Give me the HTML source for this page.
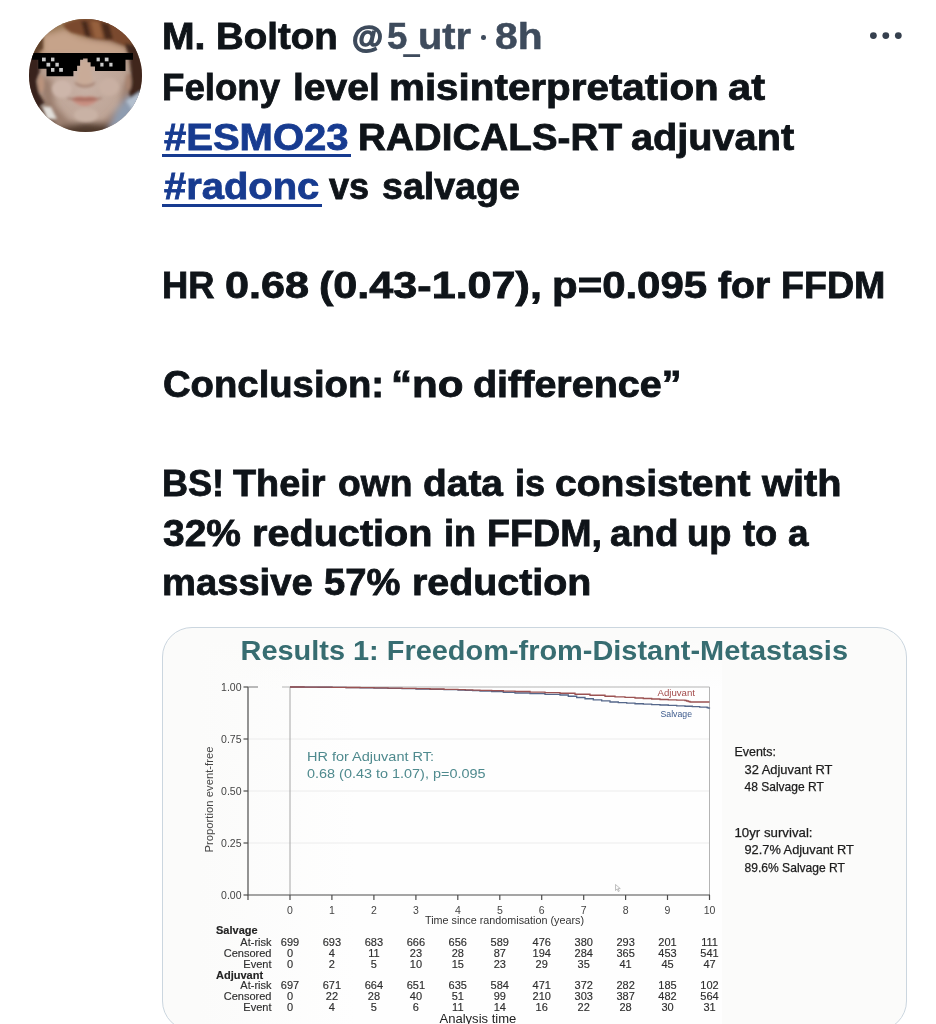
<!DOCTYPE html>
<html lang="en">
<head>
<meta charset="utf-8">
<title>Tweet</title>
<style>
html,body{margin:0;padding:0;background:#fff;}
body{width:936px;height:1024px;position:relative;overflow:hidden;font-family:"Liberation Sans",sans-serif;color:#0f1419;}
.ln{will-change:transform;position:absolute;left:162px;height:50px;line-height:50px;font-size:36px;font-weight:bold;white-space:nowrap;transform-origin:0 50%;left:0;letter-spacing:0;-webkit-text-stroke:0.8px currentColor;color:#0f1419;}
.lk{color:#173b90 !important;}
.ul{position:absolute;height:3.2px;background:#173b90;}
.gray{color:#3e4b5c !important;-webkit-text-stroke:0.5px #3e4b5c;}
.dot{position:absolute;width:4.6px;height:4.6px;border-radius:50%;background:#3e4b5c;color:transparent;font-size:4px;line-height:4.6px;overflow:hidden;}
#avatar{position:absolute;left:28.5px;top:19px;width:113px;height:113px;}
#dots{position:absolute;left:869px;top:31px;width:36px;height:10px;}
#card{position:absolute;left:161.5px;top:627px;width:745px;height:404px;box-sizing:border-box;border:1.3px solid #cbd6df;border-radius:30px;background:#fbfbfa;overflow:hidden;}
#card svg{position:absolute;left:-0.8px;top:-1.3px;filter:blur(0.3px);}
</style>
</head>
<body>

<svg id="avatar" viewBox="0 0 113 113">
  <defs>
    <clipPath id="avc"><circle cx="56.5" cy="56.5" r="56.5"/></clipPath>
    <filter id="b3" x="-20%" y="-20%" width="140%" height="140%"><feGaussianBlur stdDeviation="3"/></filter>
    <filter id="b2" x="-20%" y="-20%" width="140%" height="140%"><feGaussianBlur stdDeviation="1.8"/></filter>
    <filter id="b05" x="-5%" y="-5%" width="110%" height="110%"><feGaussianBlur stdDeviation="0.55"/></filter>
    <radialGradient id="skin" cx="50%" cy="58%" r="55%">
      <stop offset="0" stop-color="#c8b1a5"/><stop offset="0.6" stop-color="#bea597"/><stop offset="1" stop-color="#9c8373"/>
    </radialGradient>
  </defs>
  <g clip-path="url(#avc)">
    <rect width="113" height="113" fill="url(#skin)"/>
    <g filter="url(#b3)">
      <!-- upper-left tan area -->
      <path d="M-10 -10 L60 -10 L60 30 L-10 40 Z" fill="#97744f"/>
      <path d="M60 -10 L123 -10 L123 34 L60 26 Z" fill="#6e4329"/>
      <path d="M14 16 L36 10 L52 18 L80 22 L98 28 L98 36 L12 36 Z" fill="#c6a38a"/>
      <!-- jaw shade -->
      <path d="M10 58 L22 60 L26 86 L40 102 L56 106 L76 102 L90 88 L96 62 L104 64 L98 96 L76 112 L40 112 L16 96 Z" fill="#9a7d6d"/>
      <!-- under chin dark -->
      <path d="M30 108 L56 104 L84 106 L90 123 L24 123 Z" fill="#4e372c"/>
      <!-- lower right clothing (blue gray) -->
      <path d="M81 108 L87 92 L96 80 L105 74 L123 68 L123 123 L80 123 Z" fill="#8e9cb0"/>
      <!-- lower left dark -->
      <path d="M-10 84 L12 84 L22 98 L34 123 L-10 123 Z" fill="#4a352a"/>
    </g>
    <g filter="url(#b2)">
      <!-- fringe -->
      <path d="M34 5 L50 -1 L76 0 L94 6 L104 21 L97 27 L82 21 L66 19.5 L54 16.5 L42 13.5 L36 9 Z" fill="#7a4a2d"/>
      <path d="M52 2 L58 2 L62 18 L56 17 Z M72 3 L80 5 L84 20 L76 20 Z" fill="#4a2b1a"/>
      <path d="M62 2 L70 3 L74 19 L66 19 Z" fill="#96613c"/>
      <!-- left dark hair -->
      <path d="M-4 34 L10.7 34 L10.7 53 L7.5 62 L10.5 75 L15.5 84 L7 90 L-4 78 Z" fill="#38231a"/>
      <path d="M0 22 L14 12 L14 30 L4 36 Z" fill="#5e3f2a"/>
      <!-- right dark hair -->
      <path d="M96 24 L109 28 L118 50 L114 76 L102 82 L99 69 L102 55 L100.5 40 Z" fill="#3f271a"/>
      <!-- ears -->
      <ellipse cx="12" cy="65" rx="3.2" ry="9" fill="#b9937d"/>
      <ellipse cx="99.5" cy="63" rx="3" ry="9" fill="#a98471"/>
      <!-- light collar left -->
      <path d="M13 87 L22 88 L28 100 L18 100 Z" fill="#e2dfda"/>
      <!-- clothing light -->
      <path d="M97 82 L112 72 L113 88 L104 92 Z" fill="#b3bfce"/>
      <!-- cheeks light -->
      <ellipse cx="33" cy="70" rx="10" ry="9" fill="#cdb6aa"/>
      <ellipse cx="80" cy="68" rx="10" ry="9" fill="#c9b0a3"/>
      <ellipse cx="57" cy="96" rx="12" ry="7" fill="#c9b2a5"/>
      <!-- nose -->
      <path d="M52 42 L60 42 L64 62 L56 67 L47 62 Z" fill="#c9ab98"/>
      <path d="M45 62 Q56 70 67 62 L65 66 Q56 71 47 66 Z" fill="#a58272"/>
      <!-- mouth -->
      <path d="M42 80 Q49 76.5 56 78 Q63 76.5 70 80 Q63 87 56 87 Q48 87 42 80 Z" fill="#c98e80"/>
      <path d="M42 80 Q49 77 56 78.5 Q63 77 70 80 Q56 83 42 80 Z" fill="#b06f60"/>
      <path d="M38 79 Q56 84 73 79" stroke="#8f6256" stroke-width="1" fill="none"/>
    </g>
    <!-- pixel sunglasses -->
    <g filter="url(#b05)">
      <path d="M3 34.1 H104 V40.8 H96.5 V52 H66 V47.5 H61.6 V43.2 H58.6 V39.4 H54.1 V40.8 H51.1 V46.8 H48.1 V52 H44.4 V57.3 H17.5 V49.8 H9.2 V40.8 H3 Z" fill="#050505"/>
      <g fill="#c9c9c9">
        <rect x="13" y="38.6" width="3.7" height="3.7"/><rect x="22" y="38.6" width="3.4" height="3.7"/>
        <rect x="17.5" y="43.8" width="3.7" height="3.7"/><rect x="26.4" y="43.8" width="3.4" height="3.7"/>
        <rect x="22" y="49" width="3.4" height="3.8"/><rect x="30.2" y="49" width="3.7" height="3.8"/>
        <rect x="67.6" y="38.6" width="3.2" height="3.7"/><rect x="75.8" y="38.6" width="3.7" height="3.7"/>
        <rect x="71.3" y="43.8" width="3.2" height="3.7"/><rect x="80.3" y="43.8" width="3.2" height="3.7"/>
      </g>
    </g>
  </g>
</svg>

<!--TEXT-->
<div class="ln" style="left:162.01px;top:11.90px;transform:scaleX(1.0873)">M.</div>
<div class="ln" style="left:216.29px;top:11.90px;transform:scaleX(1.0675)">Bolton</div>
<div class="ln gray" style="left:351.89px;top:12.10px;transform:scaleX(1.0102);font-size:31.5px;-webkit-text-stroke-width:1.5px !important">@</div>
<div class="ln gray" style="left:386.64px;top:11.90px;transform:scaleX(1.0154)">5</div>
<div class="ln gray" style="left:404.21px;top:14.50px;transform:scaleX(0.7692);-webkit-text-stroke-width:1.4px !important">_</div>
<div class="ln gray" style="left:417.56px;top:11.90px;transform:scaleX(1.1059)">utr</div>
<div class="ln gray" style="left:495.15px;top:11.90px;transform:scaleX(1.1323)">8h</div>

<div class="ln" style="left:162.37px;top:63.30px;transform:scaleX(1.0175)">Felony</div>
<div class="ln" style="left:292.77px;top:63.30px;transform:scaleX(1.0837)">level</div>
<div class="ln" style="left:388.81px;top:63.30px;transform:scaleX(1.1215)">misinterpretation</div>
<div class="ln" style="left:727.81px;top:63.30px;transform:scaleX(1.1565)">at</div>

<div class="ln lk" style="left:164.44px;top:112.80px;transform:scaleX(1.1112)">#ESMO23</div>
<div class="ln" style="left:357.68px;top:112.80px;transform:scaleX(1.0732)">RADICALS-RT</div>
<div class="ln" style="left:630.94px;top:112.80px;transform:scaleX(1.1019)">adjuvant</div>

<div class="ln lk" style="left:164.44px;top:162.30px;transform:scaleX(1.1085)">#radonc</div>
<div class="ln" style="left:329.40px;top:162.30px;transform:scaleX(1.0020)">vs</div>
<div class="ln" style="left:381.77px;top:162.30px;transform:scaleX(1.0430)">salvage</div>

<div class="ln" style="left:162.38px;top:261.30px;transform:scaleX(1.0099)">HR</div>
<div class="ln" style="left:224.87px;top:261.30px;transform:scaleX(1.2000)">0.68</div>
<div class="ln" style="left:319.08px;top:261.30px;transform:scaleX(1.1979)">(0.43-1.07),</div>
<div class="ln" style="left:552.24px;top:261.30px;transform:scaleX(1.1655)">p=0.095</div>
<div class="ln" style="left:718.43px;top:261.30px;transform:scaleX(1.0865)">for</div>
<div class="ln" style="left:780.83px;top:261.30px;transform:scaleX(1.0447)">FFDM</div>

<div class="ln" style="left:163.36px;top:360.30px;transform:scaleX(1.0625)">Conclusion:</div>
<div class="ln" style="left:390.50px;top:360.30px;transform:scaleX(1.1700)">“no</div>
<div class="ln" style="left:473.14px;top:360.30px;transform:scaleX(1.0966)">difference”</div>

<div class="ln" style="left:162.40px;top:459.20px;transform:scaleX(1.0020)">BS!</div>
<div class="ln" style="left:232.82px;top:459.20px;transform:scaleX(1.0495)">Their</div>
<div class="ln" style="left:337.68px;top:459.20px;transform:scaleX(1.0331)">own</div>
<div class="ln" style="left:422.95px;top:459.20px;transform:scaleX(1.0802)">data</div>
<div class="ln" style="left:514.92px;top:459.20px;transform:scaleX(1.0020)">is</div>
<div class="ln" style="left:555.45px;top:459.20px;transform:scaleX(1.0854)">consistent</div>
<div class="ln" style="left:761.94px;top:459.20px;transform:scaleX(1.1032)">with</div>

<div class="ln" style="left:163.03px;top:508.70px;transform:scaleX(1.0832)">32%</div>
<div class="ln" style="left:251.64px;top:508.70px;transform:scaleX(1.1007)">reduction</div>
<div class="ln" style="left:443.67px;top:508.70px;transform:scaleX(1.0020)">in</div>
<div class="ln" style="left:486.93px;top:508.70px;transform:scaleX(1.0453)">FFDM,</div>
<div class="ln" style="left:609.56px;top:508.70px;transform:scaleX(1.0694)">and</div>
<div class="ln" style="left:686.69px;top:508.70px;transform:scaleX(1.0074)">up</div>
<div class="ln" style="left:742.80px;top:508.70px;transform:scaleX(1.0092)">to</div>
<div class="ln" style="left:787.89px;top:508.70px;transform:scaleX(1.0240)">a</div>

<div class="ln" style="left:162.30px;top:558.20px;transform:scaleX(1.0601)">massive</div>
<div class="ln" style="left:323.66px;top:558.20px;transform:scaleX(1.0593)">57%</div>
<div class="ln" style="left:411.85px;top:558.20px;transform:scaleX(1.0938)">reduction</div>

<div class="dot" style="left:481.3px;top:35.1px">·</div>
<div class="ul" style="left:161.8px;top:154.1px;width:189.5px"></div>
<div class="ul" style="left:161.8px;top:203.7px;width:160.7px"></div>
<!--/TEXT-->

<svg id="dots" viewBox="0 0 36 10">
  <circle cx="4.4" cy="4.55" r="3.4" fill="#36404e"/><circle cx="16.8" cy="4.55" r="3.4" fill="#36404e"/><circle cx="29.3" cy="4.55" r="3.4" fill="#36404e"/>
</svg>

<div id="card">
<svg width="744" height="420" viewBox="162 627 744 420" font-family="Liberation Sans, sans-serif">
<defs><linearGradient id="wg" x1="0" x2="1" y1="0" y2="0"><stop offset="0" stop-color="#fbfbfa"/><stop offset="0.3" stop-color="#fefefe"/><stop offset="1" stop-color="#fefefe"/></linearGradient><linearGradient id="wg2" x1="0" x2="0" y1="0" y2="1"><stop offset="0" stop-color="#fbfbfa"/><stop offset="1" stop-color="#fbfbfa" stop-opacity="0"/></linearGradient></defs>
<rect x="199" y="640" width="523" height="420" fill="url(#wg)"/>
<rect x="199" y="640" width="523" height="50" fill="url(#wg2)"/>
<text x="240.5" y="660" font-size="27" font-weight="bold" fill="#376d71" textLength="607.5" lengthAdjust="spacingAndGlyphs">Results 1: Freedom-from-Distant-Metastasis</text>
<line x1="248" y1="739" x2="710" y2="739" stroke="#ececec" stroke-width="1"/>
<line x1="248" y1="791" x2="710" y2="791" stroke="#ececec" stroke-width="1"/>
<line x1="248" y1="843" x2="710" y2="843" stroke="#ececec" stroke-width="1"/>
<path d="M282 687 H709.5 V895" fill="none" stroke="#b4b4b4" stroke-width="1"/>
<line x1="290" y1="687" x2="290" y2="895" stroke="#a6a6a6" stroke-width="1"/>
<path d="M248 687 V895 H710" fill="none" stroke="#4d4d4d" stroke-width="1.2"/>
<line x1="248" y1="687" x2="258" y2="687" stroke="#777" stroke-width="1"/>
<line x1="243.5" y1="687" x2="248" y2="687" stroke="#4d4d4d" stroke-width="1.2"/>
<line x1="243.5" y1="739" x2="248" y2="739" stroke="#4d4d4d" stroke-width="1.2"/>
<line x1="243.5" y1="791" x2="248" y2="791" stroke="#4d4d4d" stroke-width="1.2"/>
<line x1="243.5" y1="843" x2="248" y2="843" stroke="#4d4d4d" stroke-width="1.2"/>
<line x1="243.5" y1="895" x2="248" y2="895" stroke="#4d4d4d" stroke-width="1.2"/>
<line x1="290.0" y1="895" x2="290.0" y2="900" stroke="#4d4d4d" stroke-width="1.2"/>
<line x1="331.9" y1="895" x2="331.9" y2="900" stroke="#4d4d4d" stroke-width="1.2"/>
<line x1="373.9" y1="895" x2="373.9" y2="900" stroke="#4d4d4d" stroke-width="1.2"/>
<line x1="415.9" y1="895" x2="415.9" y2="900" stroke="#4d4d4d" stroke-width="1.2"/>
<line x1="457.8" y1="895" x2="457.8" y2="900" stroke="#4d4d4d" stroke-width="1.2"/>
<line x1="499.8" y1="895" x2="499.8" y2="900" stroke="#4d4d4d" stroke-width="1.2"/>
<line x1="541.7" y1="895" x2="541.7" y2="900" stroke="#4d4d4d" stroke-width="1.2"/>
<line x1="583.7" y1="895" x2="583.7" y2="900" stroke="#4d4d4d" stroke-width="1.2"/>
<line x1="625.6" y1="895" x2="625.6" y2="900" stroke="#4d4d4d" stroke-width="1.2"/>
<line x1="667.5" y1="895" x2="667.5" y2="900" stroke="#4d4d4d" stroke-width="1.2"/>
<line x1="709.5" y1="895" x2="709.5" y2="900" stroke="#4d4d4d" stroke-width="1.2"/>
<line x1="248" y1="895" x2="248" y2="900" stroke="#4d4d4d" stroke-width="1.2"/>
<g font-size="10.5" fill="#444" text-anchor="end">
<text x="241.5" y="690.8">1.00</text>
<text x="241.5" y="742.8">0.75</text>
<text x="241.5" y="794.8">0.50</text>
<text x="241.5" y="846.8">0.25</text>
<text x="241.5" y="898.8">0.00</text>
</g>
<g font-size="10.5" fill="#444" text-anchor="middle">
<text x="290.0" y="914">0</text>
<text x="331.9" y="914">1</text>
<text x="373.9" y="914">2</text>
<text x="415.9" y="914">3</text>
<text x="457.8" y="914">4</text>
<text x="499.8" y="914">5</text>
<text x="541.7" y="914">6</text>
<text x="583.7" y="914">7</text>
<text x="625.6" y="914">8</text>
<text x="667.5" y="914">9</text>
<text x="709.5" y="914">10</text>
</g>
<text transform="translate(213.3 799.5) rotate(-90)" font-size="11.3" fill="#444" text-anchor="middle">Proportion event-free</text>
<text x="425" y="923.8" font-size="10.5" fill="#333" textLength="159" lengthAdjust="spacingAndGlyphs">Time since randomisation (years)</text>
<path d="M290 687 H304.0 V687.13 H318.0 V687.27 H332.0 V687.40 H346.0 V687.63 H360.0 V687.87 H374.0 V688.10 H388.0 V688.40 H402.0 V688.70 H416.0 V689.00 H430.0 V689.33 H444.0 V689.67 H458.0 V690.00 H465.3 V690.33 H472.7 V690.67 H480.0 V691.00 H491.7 V691.67 H503.3 V692.33 H515.0 V693.00 H530.0 V693.67 H545.0 V694.33 H560.0 V695.00 H568.3 V696.25 H576.7 V697.50 H585.0 V698.75 H593.3 V699.83 H601.7 V700.92 H610.0 V702.00 H618.3 V702.58 H626.7 V703.17 H635.0 V703.75 H643.3 V704.17 H651.7 V704.58 H660.0 V705.00 H668.3 V705.42 H676.7 V705.83 H685.0 V706.25 H692.3 V706.67 H699.7 V707.08 H707.0 V707.50 H707.8 V707.83 H708.7 V708.17 H709.5 V708.50" fill="none" stroke="#55678a" stroke-width="1.3"/>
<path d="M290 687 H304.0 V687.10 H318.0 V687.20 H332.0 V687.30 H346.0 V687.50 H360.0 V687.70 H374.0 V687.90 H388.0 V688.17 H402.0 V688.43 H416.0 V688.70 H430.0 V689.00 H444.0 V689.30 H458.0 V689.60 H465.3 V689.83 H472.7 V690.07 H480.0 V690.30 H491.7 V690.70 H503.3 V691.10 H515.0 V691.50 H530.0 V692.08 H545.0 V692.67 H560.0 V693.25 H575.0 V694.25 H590.0 V695.25 H605.0 V696.25 H615.0 V696.83 H625.0 V697.42 H635.0 V698.00 H643.3 V698.50 H651.7 V699.00 H660.0 V699.50 H668.3 V699.83 H676.7 V700.17 H685.0 V700.50 H686.7 V701.00 H688.3 V701.50 H690.0 V702.00 H696.5 V702.00 H703.0 V702.00 H709.5 V702.00" fill="none" stroke="#9b5252" stroke-width="1.3"/>
<text x="657.5" y="696" font-size="8.6" fill="#a24a4a" textLength="37.5" lengthAdjust="spacingAndGlyphs">Adjuvant</text>
<text x="660.5" y="716.5" font-size="8.6" fill="#3d5a8c" textLength="31.5" lengthAdjust="spacingAndGlyphs">Salvage</text>
<g font-size="13.4" fill="#4f8a8e">
<text x="307" y="760.5" textLength="127" lengthAdjust="spacingAndGlyphs">HR for Adjuvant RT:</text>
<text x="307" y="778" textLength="178.5" lengthAdjust="spacingAndGlyphs">0.68 (0.43 to 1.07), p=0.095</text>
</g>
<g font-size="12.6" fill="#1c1c1c" stroke="#1c1c1c" stroke-width="0.25">
<text x="734.5" y="756.3" textLength="41.5" lengthAdjust="spacingAndGlyphs">Events:</text>
<text x="744.5" y="773.8" textLength="88" lengthAdjust="spacingAndGlyphs">32 Adjuvant RT</text>
<text x="744.5" y="791.3" textLength="79.3" lengthAdjust="spacingAndGlyphs">48 Salvage RT</text>
<text x="734.5" y="837" textLength="78" lengthAdjust="spacingAndGlyphs">10yr survival:</text>
<text x="744.5" y="854.3" textLength="109.3" lengthAdjust="spacingAndGlyphs">92.7% Adjuvant RT</text>
<text x="744.5" y="871.8" textLength="100.5" lengthAdjust="spacingAndGlyphs">89.6% Salvage RT</text>
</g>
<g font-size="11" fill="#2e2e2e" stroke="#2e2e2e" stroke-width="0.15">
<text x="216" y="933.8" font-weight="bold" fill="#222">Salvage</text>
<text x="216" y="978.8" font-weight="bold" fill="#222">Adjuvant</text>
<text x="271.5" y="945.5" text-anchor="end">At-risk</text>
<g text-anchor="middle"><text x="290.0" y="945.5">699</text><text x="331.9" y="945.5">693</text><text x="373.9" y="945.5">683</text><text x="415.9" y="945.5">666</text><text x="457.8" y="945.5">656</text><text x="499.8" y="945.5">589</text><text x="541.7" y="945.5">476</text><text x="583.7" y="945.5">380</text><text x="625.6" y="945.5">293</text><text x="667.5" y="945.5">201</text><text x="709.5" y="945.5">111</text></g>
<text x="271.5" y="956.7" text-anchor="end">Censored</text>
<g text-anchor="middle"><text x="290.0" y="956.7">0</text><text x="331.9" y="956.7">4</text><text x="373.9" y="956.7">11</text><text x="415.9" y="956.7">23</text><text x="457.8" y="956.7">28</text><text x="499.8" y="956.7">87</text><text x="541.7" y="956.7">194</text><text x="583.7" y="956.7">284</text><text x="625.6" y="956.7">365</text><text x="667.5" y="956.7">453</text><text x="709.5" y="956.7">541</text></g>
<text x="271.5" y="967.6" text-anchor="end">Event</text>
<g text-anchor="middle"><text x="290.0" y="967.6">0</text><text x="331.9" y="967.6">2</text><text x="373.9" y="967.6">5</text><text x="415.9" y="967.6">10</text><text x="457.8" y="967.6">15</text><text x="499.8" y="967.6">23</text><text x="541.7" y="967.6">29</text><text x="583.7" y="967.6">35</text><text x="625.6" y="967.6">41</text><text x="667.5" y="967.6">45</text><text x="709.5" y="967.6">47</text></g>
<text x="271.5" y="988.8" text-anchor="end">At-risk</text>
<g text-anchor="middle"><text x="290.0" y="988.8">697</text><text x="331.9" y="988.8">671</text><text x="373.9" y="988.8">664</text><text x="415.9" y="988.8">651</text><text x="457.8" y="988.8">635</text><text x="499.8" y="988.8">584</text><text x="541.7" y="988.8">471</text><text x="583.7" y="988.8">372</text><text x="625.6" y="988.8">282</text><text x="667.5" y="988.8">185</text><text x="709.5" y="988.8">102</text></g>
<text x="271.5" y="1000" text-anchor="end">Censored</text>
<g text-anchor="middle"><text x="290.0" y="1000">0</text><text x="331.9" y="1000">22</text><text x="373.9" y="1000">28</text><text x="415.9" y="1000">40</text><text x="457.8" y="1000">51</text><text x="499.8" y="1000">99</text><text x="541.7" y="1000">210</text><text x="583.7" y="1000">303</text><text x="625.6" y="1000">387</text><text x="667.5" y="1000">482</text><text x="709.5" y="1000">564</text></g>
<text x="271.5" y="1010.8" text-anchor="end">Event</text>
<g text-anchor="middle"><text x="290.0" y="1010.8">0</text><text x="331.9" y="1010.8">4</text><text x="373.9" y="1010.8">5</text><text x="415.9" y="1010.8">6</text><text x="457.8" y="1010.8">11</text><text x="499.8" y="1010.8">14</text><text x="541.7" y="1010.8">16</text><text x="583.7" y="1010.8">22</text><text x="625.6" y="1010.8">28</text><text x="667.5" y="1010.8">30</text><text x="709.5" y="1010.8">31</text></g>
</g>
<text x="439.5" y="1022.5" font-size="12.3" fill="#222" textLength="76.8" lengthAdjust="spacingAndGlyphs">Analysis time</text>
<path d="M615.5 884.5 l0 6 l1.6 -1.5 l1.2 2.6 l1 -0.5 l-1.2 -2.5 l2.2 0 z" fill="#fafafa" stroke="#999" stroke-width="0.6"/>
</svg>
</div>

</body>
</html>
